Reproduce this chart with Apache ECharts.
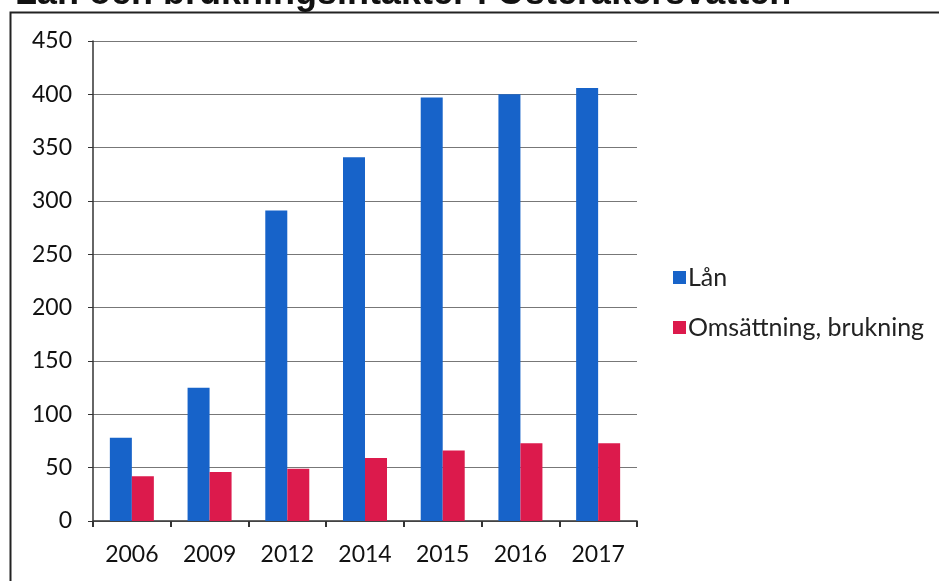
<!DOCTYPE html>
<html>
<head>
<meta charset="utf-8">
<script src="https://cdn.jsdelivr.net/npm/echarts@6/dist/echarts.min.js"></script>
<style>
html, body { margin: 0; padding: 0; background: #fff; }
#chart { width: 939px; height: 581px; }
</style>
</head>
<body>
<div id="chart"></div>
<script>
// år på x-axeln
const years = ['2006', '2009', '2012', '2014', '2015', '2016', '2017'];
// Lån
const lanValues = [78, 125, 291, 341, 397, 400, 406];
// Omsättning, brukning
const omsValues = [42, 46, 49, 59, 66, 73, 73];
const seriesNames = ['Lån', 'Omsättning, brukning'];
const titleText = 'Lån och brukningsintäkter i Österåkersvatten';

const labelFont = 'Lato, "Open Sans", sans-serif';

let myChart = echarts.init(document.getElementById('chart'));
let option = {
    backgroundColor: '#fff',
    animation: false,
    title: {
        text: titleText,
        left: 10,
        top: -29,
        textStyle: {
            fontFamily: '"Liberation Sans", Arial, sans-serif',
            fontWeight: 'bold',
            fontSize: 36,
            color: '#111'
        }
    },
    graphic: [
        {
            type: 'rect',
            shape: { x: 10.5, y: 12.5, width: 960, height: 600 },
            style: { fill: 'none', stroke: '#222', lineWidth: 2 },
            silent: true
        }
    ],
    legend: {
        data: seriesNames,
        orient: 'vertical',
        left: 668,
        top: 260,
        itemWidth: 13,
        itemHeight: 13,
        itemGap: 25,
        icon: 'rect',
        textStyle: {
            fontFamily: labelFont,
            fontSize: 25,
            color: '#222',
            padding: [0, 0, 0, -3]
        }
    },
    grid: {
        left: 93,
        right: 302,
        top: 41,
        bottom: 60,
        containLabel: false
    },
    xAxis: {
        type: 'category',
        data: years,
        axisLine: { show: true, lineStyle: { color: '#333', width: 1.5 } },
        axisTick: { show: true, inside: false, length: 6, alignWithLabel: false, lineStyle: { color: '#333', width: 2 } },
        axisLabel: {
            margin: 22,
            fontFamily: labelFont,
            fontSize: 23,
            color: '#111'
        }
    },
    yAxis: {
        type: 'value',
        min: 0,
        max: 450,
        interval: 50,
        axisLine: { show: true, lineStyle: { color: '#333', width: 1.5 } },
        axisTick: { show: true, inside: false, length: 5, lineStyle: { color: '#333' } },
        splitLine: { show: true, lineStyle: { color: '#777', width: 1.2 } },
        axisLabel: {
            margin: 21,
            fontFamily: labelFont,
            fontSize: 23,
            color: '#111'
        }
    },
    series: [
        {
            name: seriesNames[0],
            type: 'bar',
            data: lanValues,
            barWidth: 22,
            barGap: '0%',
            itemStyle: { color: '#1763c9' }
        },
        {
            name: seriesNames[1],
            type: 'bar',
            data: omsValues,
            barWidth: 22,
            barGap: '0%',
            itemStyle: { color: '#dc1a4c' }
        }
    ]
};
myChart.setOption(option);
</script>
</body>
</html>
